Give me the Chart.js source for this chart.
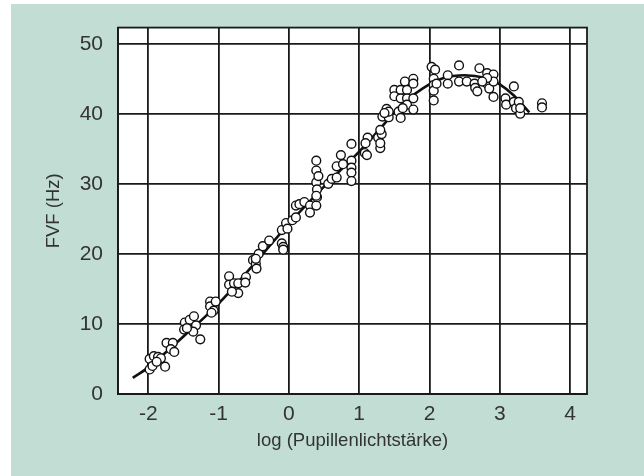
<!DOCTYPE html>
<html>
<head>
<meta charset="utf-8">
<script src="https://cdn.jsdelivr.net/npm/chart.js@4/dist/chart.umd.min.js"></script>
<style>
  html, body { margin: 0; padding: 0; background: #ffffff; }
  #wrap { position: absolute; left: 0; top: 0; width: 644px; height: 476px; }
</style>
</head>
<body>
<div id="wrap"><canvas id="canvasFvf" width="644" height="476"></canvas></div>
<script>
// Messwerte (log Pupillenlichtstärke / FVF in Hz)
var pointsX = [-1.98, -1.92, -1.86, -1.82, -1.98, -1.94, -1.88, -1.76, -1.74, -1.65, -1.68, -1.63,
  -1.48, -1.49, -1.41, -1.35, -1.32, -1.36, -1.26, -1.45, -1.12, -1.12, -1.07, -1.04, -1.10,
  -0.85, -0.85, -0.78, -0.72, -0.72, -0.81, -0.61, -0.62, -0.51, -0.47, -0.46, -0.43, -0.37, -0.28, -0.47,
  -0.10, -0.08, -0.08, -0.10, -0.04, -0.02, 0.05, 0.10, 0.10, 0.15, 0.22, 0.30, 0.30, 0.39, 0.40,
  0.39, 0.39, 0.39, 0.42, 0.40, 0.39, 0.56, 0.61, 0.68, 0.68, 0.74, 0.77, 0.89, 0.89, 0.89, 0.89, 0.89,
  1.08, 1.11, 1.12, 1.09, 1.27, 1.30, 1.30, 1.32, 1.30, 1.33, 1.39, 1.42, 1.42, 1.36,
  1.50, 1.50, 1.56, 1.59, 1.59, 1.59, 1.65, 1.68, 1.68, 1.68, 1.77, 1.77, 1.77, 1.77, 1.62,
  2.03, 2.08, 2.06, 2.06, 2.06, 2.06, 2.10, 2.26, 2.26, 2.42, 2.42, 2.53, 2.64, 2.65, 2.68, 2.71,
  2.82, 2.82, 2.85, 2.91, 2.91, 2.91, 2.82, 2.75, 3.08, 3.09, 3.20, 3.20, 3.23, 3.27, 3.29, 3.29, 3.60, 3.60];
var pointsY = [5.0, 5.4, 5.3, 5.1, 3.5, 4.0, 4.6, 3.9, 7.3, 7.3, 6.4, 6.0,
  10.2, 9.2, 10.6, 11.1, 9.8, 8.9, 7.8, 9.4, 13.2, 12.5, 11.9, 13.2, 11.6,
  16.8, 15.6, 15.8, 15.8, 14.4, 14.6, 16.7, 15.9, 19.1, 18.6, 17.9, 20.0, 21.1, 21.9, 19.3,
  21.5, 21.0, 20.6, 23.4, 24.4, 23.6, 24.8, 25.2, 26.9, 27.1, 27.4, 26.9, 25.9, 26.9, 28.1,
  30.2, 33.3, 31.9, 31.1, 29.2, 28.3, 30.0, 30.7, 30.9, 32.5, 34.1, 32.8, 35.7, 33.3, 32.3, 31.6, 30.4,
  34.4, 34.1, 36.6, 35.8, 36.6, 35.1, 35.8, 37.1, 37.7, 39.6, 40.7, 39.5, 40.3, 40.1,
  43.4, 42.5, 40.3, 39.4, 43.4, 42.2, 44.6, 43.4, 42.2, 41.3, 45.0, 44.3, 42.2, 40.6, 40.8,
  46.7, 46.3, 45.0, 44.1, 43.3, 41.9, 44.3, 45.5, 44.3, 46.9, 44.6, 44.6, 44.3, 43.7, 43.2, 46.5,
  45.8, 44.3, 43.6, 45.6, 44.6, 42.4, 45.1, 44.6, 42.2, 41.3, 43.9, 41.7, 40.8, 41.7, 40.0, 40.8, 41.5, 40.9];

// Ausgleichskurve
var fitX = [-2.22, -2.0, -1.5, -1.0, -0.5, 0.0, 0.5, 1.0, 1.3, 1.6, 1.9, 2.2, 2.5, 2.8, 3.0, 3.2, 3.42];
var fitY = [2.3, 3.8, 8.2, 12.9, 18.5, 24.3, 29.6, 34.6, 37.9, 41.3, 43.6, 45.1, 45.5, 45.1, 44.2, 42.6, 40.2];

var xTicks = [-2, -1, 0, 1, 2, 3, 4];
var yTicks = [0, 10, 20, 30, 40, 50];

var scatterData = pointsX.map(function (x, i) { return { x: x, y: pointsY[i] }; });
var fitData = fitX.map(function (x, i) { return { x: x, y: fitY[i] }; });

var tickFont = { family: 'Liberation Sans', size: 21 };
var titleFont = { family: 'Liberation Sans', size: 18.5 };

// Hintergrund + Rahmen
var framePlugin = {
  id: 'frame',
  beforeDraw: function (chart) {
    var c = chart.ctx;
    c.save();
    c.fillStyle = '#ffffff';
    c.fillRect(0, 0, chart.width, chart.height);
    c.fillStyle = '#c1ddd4';
    c.fillRect(11, 4, chart.width - 11, chart.height - 4);
    var a = chart.chartArea;
    c.fillStyle = '#ffffff';
    c.fillRect(a.left, a.top, a.right - a.left, a.bottom - a.top);
    c.restore();
  },
  afterDatasetsDraw: function (chart) {
    var c = chart.ctx;
    var a = chart.chartArea;
    c.save();
    c.strokeStyle = '#1a1a1a';
    c.lineWidth = 1.8;
    c.strokeRect(a.left, a.top, a.right - a.left, a.bottom - a.top);
    c.restore();
  }
};

var ctx = document.getElementById('canvasFvf').getContext('2d');
var fvfChart = new Chart(ctx, {
  type: 'scatter',
  data: {
    datasets: [{
      type: 'line',
      data: fitData,
      borderColor: '#111111',
      borderWidth: 2.6,
      pointRadius: 0,
      tension: 0.4,
      fill: false,
      order: 2
    }, {
      data: scatterData,
      pointRadius: 4.4,
      pointBorderWidth: 1.4,
      pointBorderColor: '#111111',
      pointBackgroundColor: '#ffffff',
      order: 1
    }]
  },
  options: {
    responsive: false,
    animation: false,
    layout: { padding: { top: 26, right: 57, left: 0, bottom: 0 } },
    plugins: { legend: { display: false }, tooltip: { enabled: false } },
    scales: {
      x: {
        type: 'linear',
        min: -2.43,
        max: 4.24,
        afterBuildTicks: function (scale) { scale.ticks = xTicks.map(function (v) { return { value: v }; }); },
        afterFit: function (scale) { scale.height = 82; },
        grid: { color: '#1a1a1a', lineWidth: 1.8, drawTicks: false },
        border: { color: '#1a1a1a', width: 1.8 },
        ticks: { font: tickFont, color: '#333333', padding: 8, maxRotation: 0 },
        title: { display: true, text: 'log (Pupillenlichtstärke)', font: titleFont, color: '#333333', padding: { top: 0, bottom: 24 } }
      },
      y: {
        type: 'linear',
        min: 0,
        max: 52.3,
        afterBuildTicks: function (scale) { scale.ticks = yTicks.map(function (v) { return { value: v }; }); },
        afterFit: function (scale) { scale.width = 118; },
        grid: { color: '#1a1a1a', lineWidth: 1.8, drawTicks: false },
        border: { color: '#1a1a1a', width: 1.8 },
        ticks: { font: tickFont, color: '#333333', padding: 15 },
        title: { display: true, text: 'FVF (Hz)', font: titleFont, color: '#333333', padding: { top: 43, bottom: 0 } }
      }
    }
  },
  plugins: [framePlugin]
});
</script>
</body>
</html>
